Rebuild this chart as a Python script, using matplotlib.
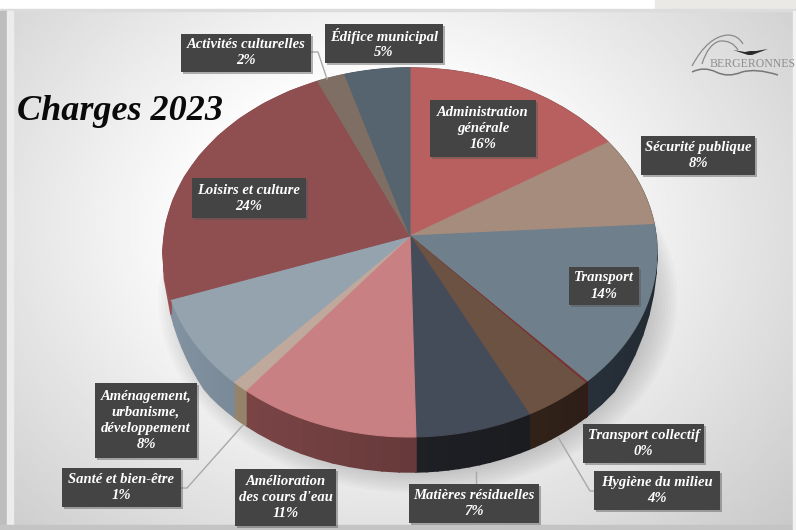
import matplotlib
matplotlib.use("Agg")
import matplotlib.pyplot as plt
from matplotlib.patches import PathPatch, Rectangle
from matplotlib.path import Path
import numpy as np

# clockwise from 12 o'clock
labels = ["Administration\ngénérale", "Sécurité publique", "Transport", "Transport collectif",
          "Hygiène du milieu", "Matières résiduelles", "Amélioration\ndes cours d'eau", "Santé et bien-être",
          "Aménagement,\nurbanisme,\ndéveloppement", "Loisirs et culture", "Activités culturelles", "Édifice municipal"]
values = [16, 8, 14.3, 0.15, 4.2, 7, 11, 1, 7.9, 23.8, 2, 4.65]
top_colors = ["#b8605f", "#a58c7c", "#6f7f8c", "#7a3030", "#6c5243", "#444b59",
              "#c98083", "#bfa99c", "#95a3af", "#8f4e50", "#7f6e63", "#56646f"]
side_colors = ["#7d3d3d", "#6d5a4e", "#333f4a", "#4a1f1f", "#3a281e", "#202126",
               "#6a3b3c", "#80705c", "#687581", "#7a4042", "#5f5148", "#3d4954"]

# label boxes: left, top, right, bottom in pixels
boxes = [(430, 100, 536, 157), (641, 136, 755, 175), (569, 267, 639, 305), (583, 424, 704, 463),
         (594, 471, 720, 510), (409, 484, 539, 523), (235, 469, 336, 526), (62, 468, 181, 507),
         (95, 383, 197, 458), (192, 178, 306, 218), (181, 34, 311, 72), (325, 24, 443, 63)]
leaders = [([311, 318, 327], [52, 52, 79]), ([181, 187, 243], [488, 488, 425]),
           ([476, 476], [472, 484]), ([594, 590, 558], [491, 491, 437])]

CX, CY, RX, RY, K = 410, 236, 246, 183, 0.0894
DEPTH = 35


def rim(t):
    # circle seen in perspective, so the centre sits above the middle of the ellipse
    u, v = np.sin(t), np.cos(t)
    return CX + RX * u / (1 + K * v), CY - RY * v / (1 + K * v)


def depth_at(t):
    # the side fades out towards the widest part of the ellipse
    return DEPTH * np.clip((-np.cos(t) - 0.12) / 0.5, 0, 1)


fig = plt.figure(figsize=(7.96, 5.30), dpi=100)
ax = fig.add_axes([0, 0, 1, 1])
ax.set_xlim(0, 796)
ax.set_ylim(530, 0)
ax.axis("off")

# page background
yy, xx = np.mgrid[0:1:200j, 0:1:300j]
dist = np.sqrt(((xx - 0.47) / 0.62) ** 2 + ((yy - 0.42) / 0.75) ** 2)
ax.imshow(1 - 0.17 * np.clip(dist - 0.35, 0, 1) / 0.65, cmap="gray", vmin=0, vmax=1,
          extent=(10, 793, 525, 9), aspect="auto", zorder=0)
ax.add_patch(Rectangle((0, 0), 796, 9, color="white", zorder=1))
ax.add_patch(Rectangle((655, 0), 141, 9, color="#ebe9e6", zorder=1))
ax.add_patch(Rectangle((0, 9), 796, 2, color="#dcdcdc", zorder=1))
ax.add_patch(Rectangle((0, 11), 7, 519, color="#bdbdbb", zorder=1))
ax.add_patch(Rectangle((7, 11), 6, 519, color="#ececec", zorder=1))
ax.add_patch(Rectangle((0, 525), 796, 5, color="#c4c4c4", zorder=1))
ax.add_patch(Rectangle((793, 11), 3, 519, color="#f2f2f2", zorder=1))

theta = np.linspace(0, 2 * np.pi, 300)
for i in range(14):
    sx, sy = rim(theta)
    grow = 1.05 - i * 0.012
    ax.fill(CX + 8 + (sx - CX) * grow, CY + 46 + (sy - CY) * grow, color="#6a6a6a", alpha=0.035, lw=0, zorder=2)

fractions = np.array(values) / sum(values)
edges = np.concatenate([[0], np.cumsum(fractions)]) * 2 * np.pi

# side of the pie, darker towards the right
for i in range(len(values)):
    steps = np.linspace(edges[i], edges[i + 1], 12)
    base = np.array(matplotlib.colors.to_rgb(side_colors[i]))
    for a, b in zip(steps[:-1], steps[1:]):
        xa, ya = rim(np.array([a, b]))
        shade = np.clip(base * (1.27 - 0.6 * (np.sin((a + b) / 2) + 1) / 2), 0, 1)
        ax.fill([xa[0], xa[1], xa[1], xa[0]], [ya[0], ya[1], ya[1] + depth_at(b), ya[0] + depth_at(a)],
                facecolor=shade, edgecolor=shade, lw=1.2, zorder=3)

# top of the pie
for i in range(len(values)):
    t = np.linspace(edges[i], edges[i + 1], 60)
    sx, sy = rim(t)
    ax.fill(np.r_[CX, sx], np.r_[CY, sy], color=top_colors[i], lw=0.8, zorder=4)

for lx, ly in leaders:
    ax.plot(lx, ly, color="#a9a9a9", lw=1, zorder=5)

for name, value, (x0, y0, x1, y1) in zip(labels, values, boxes):
    ax.add_patch(Rectangle((x0 + 2, y0 + 2), x1 - x0, y1 - y0, color="#555555", alpha=0.45, lw=0, zorder=6))
    ax.add_patch(Rectangle((x0, y0), x1 - x0, y1 - y0, color="#444444", lw=0, zorder=7))
    ax.text((x0 + x1) / 2, (y0 + y1) / 2, f"{name}\n{int(round(value))}%", color="white", ha="center", va="center",
            family="Liberation Serif", style="italic", weight="bold", fontsize=10.5, linespacing=1.3, zorder=8)

ax.text(17, 112, "Charges 2023", family="Liberation Serif", style="italic", weight="bold",
        fontsize=26, color="#0a0a0a", va="center", zorder=8)

# logo
C3 = Path.CURVE3
hills = Path([(692, 66), (708, 36), (728, 35), (738, 35), (743, 44), (702, 64), (708, 44), (720, 41), (732, 40), (738, 50)],
             [Path.MOVETO, C3, C3, C3, C3, Path.MOVETO, C3, C3, C3, C3])
waves = Path([(692, 72), (704, 66), (716, 72), (728, 78), (742, 72), (756, 68), (778, 75)],
             [Path.MOVETO, C3, C3, C3, C3, C3, C3])
ax.add_patch(PathPatch(hills, fill=False, edgecolor="#8a8a8a", lw=0.9, zorder=5))
ax.add_patch(PathPatch(waves, fill=False, edgecolor="#777777", lw=1.1, zorder=5))
ax.fill([733, 745, 750, 756, 756, 768, 752, 748], [50, 52, 51, 51, 51, 49, 55, 55], color="#2a2a2a", lw=0, zorder=5)
ax.text(710, 64, "BERGERONNES", family="Liberation Serif", fontsize=8.5, color="#8e8e8e", va="center", zorder=5)

fig.savefig("out.png", dpi=100)
